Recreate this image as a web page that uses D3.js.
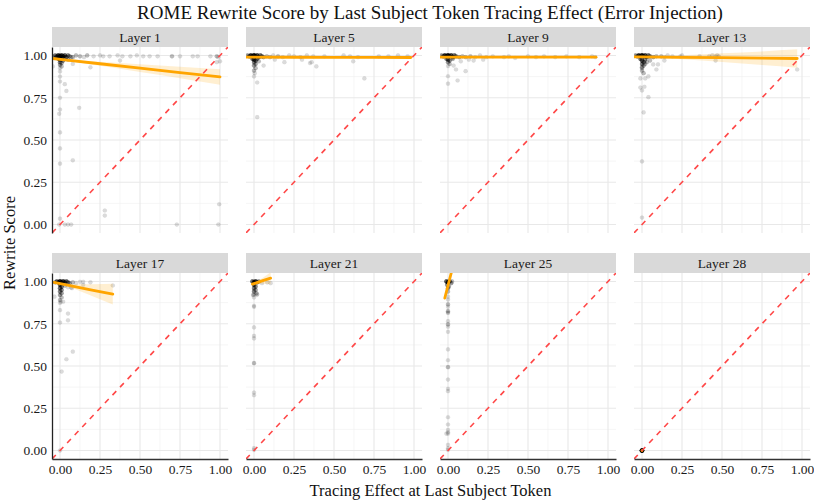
<!DOCTYPE html>
<html>
<head>
<meta charset="utf-8">
<script src="https://cdn.jsdelivr.net/npm/d3@7"></script>
<style>
  body { margin: 0; background: #fff; }
  svg text { font-family: "Liberation Serif", "Times New Roman", serif !important; }
</style>
</head>
<body>
<div id="chart"></div>
<script>
// Facet labels
var layers = ['Layer 1', 'Layer 5', 'Layer 9', 'Layer 13', 'Layer 17', 'Layer 21', 'Layer 25', 'Layer 28'];

// Tick values / labels
var tickValues = [0, 0.25, 0.5, 0.75, 1];
var minorValues = [0.125, 0.375, 0.625, 0.875];

// Points: [tracing effect, rewrite score, how many points overlap there]
var pts1 = [[-0.04,0.995,2],[-0.03,1.0,4],[-0.02,0.995,6],[-0.01,1.0,8],[0.0,0.995,10],[0.01,1.0,8],[0.02,0.995,7],[0.03,1.0,6],[0.04,0.99,5],[0.05,1.0,4],[0.06,0.995,3],[0.07,0.99,2],
  [-0.03,0.985,3],[-0.01,0.98,5],[0.0,0.975,6],[0.01,0.985,5],[0.02,0.97,4],[0.03,0.98,3],[0.05,0.975,2],
  [0.0,0.96,4],[0.01,0.955,3],[0.0,0.945,3],[0.01,0.935,2],[0.0,0.925,1],
  [0.08,0.99,2],[0.1,1.0,2],[0.125,0.995,2],[0.15,0.99,1],[0.17,1.0,2],[0.21,0.995,1],[0.25,1.0,1],[0.27,0.995,1],[0.31,0.995,1],[0.36,1.0,1],[0.39,0.995,1],[0.44,0.995,1],[0.48,1.0,1],[0.52,0.995,1],[0.56,0.995,1],[0.61,0.995,1],[0.70,0.995,2],[0.75,0.995,1],[0.83,0.995,1],[0.86,0.995,1],[0.94,0.995,1],[0.98,0.995,2],
  [0.375,0.97,1],[0.19,0.93,1],[0.08,0.95,1],[0.99,0.99,1],[1.0,0.965,1],[0.98,0.96,1],[-0.045,0.935,1],
  [0.0,0.905,1],[0.0,0.875,1],[0.0,0.846,1],[0.0,0.75,1],[0.0,0.68,1],[-0.005,0.655,1],[0.0,0.545,1],[0.0,0.45,1],[0.0,0.36,1],[0.03,0.83,1],[0.04,0.79,1],[0.12,0.69,1],[0.08,0.38,1],
  [0.0,0.035,1],[-0.005,0.0,1],[0.03,0.0,1],[0.05,0.0,1],[0.07,0.0,1],[0.28,0.083,1],[0.28,0.053,1],[0.73,0.0,1],[0.99,0.0,1],[0.995,0.12,1]];

var pts5 = [[-0.04,1.0,3],[-0.03,0.995,5],[-0.02,1.0,8],[-0.01,0.995,10],[0.0,1.0,12],[0.01,0.995,10],[0.02,1.0,8],[0.03,0.99,6],[0.04,1.0,5],[0.05,0.995,4],[0.06,0.99,3],[0.08,0.995,2],
  [-0.01,0.98,5],[0.0,0.975,6],[0.01,0.97,5],[0.02,0.98,4],[0.03,0.965,2],[0.0,0.96,4],[0.01,0.95,3],[0.0,0.94,3],[0.01,0.925,2],[0.0,0.91,2],[0.005,0.895,1],[0.0,0.876,1],
  [0.1,0.99,2],[0.12,1.0,1],[0.15,0.995,2],[0.18,0.99,1],[0.22,1.0,1],[0.25,0.995,1],[0.29,0.99,1],[0.33,1.0,1],[0.37,0.995,1],[0.44,0.995,1],[0.56,1.0,1],[0.6,0.995,1],[0.65,0.99,1],[0.78,0.995,1],[0.84,0.995,1],[0.9,1.0,1],[0.96,0.995,1],
  [0.06,0.94,1],[0.19,0.96,1],[0.36,0.96,1],[0.35,0.955,1],[0.39,0.935,1],[0.62,0.965,1],[0.69,0.864,1],[0.02,0.84,1],[0.02,0.635,1],[0.13,0.975,1],[0.3,0.975,1]];

var pts9 = [[-0.04,1.0,3],[-0.03,0.995,5],[-0.02,1.0,8],[-0.01,0.995,10],[0.0,1.0,12],[0.01,0.995,10],[0.02,1.0,8],[0.03,0.99,6],[0.04,1.0,5],[0.05,0.995,4],[0.07,0.99,3],[0.09,0.995,2],
  [-0.01,0.98,4],[0.0,0.975,5],[0.01,0.97,4],[0.03,0.98,3],[0.0,0.96,3],[0.01,0.95,2],[0.0,0.937,1],[0.0,0.877,1],[0.0,0.833,1],[0.06,0.852,1],[0.11,0.907,1],[0.05,0.917,1],[0.035,0.94,1],[0.08,0.965,1],
  [0.11,0.99,2],[0.14,0.995,2],[0.17,0.99,1],[0.2,1.0,1],[0.24,0.99,1],[0.28,0.995,1],[0.35,0.99,1],[0.38,0.995,1],[0.42,0.985,1],[0.5,0.995,1],[0.55,0.99,1],[0.6,0.995,1],[0.67,0.99,1],[0.74,0.995,1],[0.82,0.99,1],[0.9,0.995,1],[0.92,0.99,1],
  [0.13,0.975,1],[0.16,0.97,1],[0.22,0.975,1]];

var pts13 = [[-0.04,1.0,3],[-0.03,0.995,5],[-0.02,1.0,8],[-0.01,0.995,10],[0.0,1.0,12],[0.01,0.995,10],[0.02,1.0,8],[0.03,0.99,6],[0.04,1.0,5],[0.05,0.995,4],[0.07,0.99,3],[0.09,0.995,2],
  [-0.01,0.98,5],[0.0,0.97,6],[0.01,0.96,5],[0.02,0.975,4],[0.0,0.95,4],[0.01,0.94,3],[0.0,0.93,3],[0.02,0.95,2],[0.0,0.91,2],[0.01,0.895,2],[0.03,0.96,2],[0.05,0.97,2],
  [0.0,0.923,1],[-0.01,0.864,1],[0.02,0.864,1],[0.04,0.876,1],[-0.01,0.81,1],[0.015,0.815,1],[0.0,0.793,1],[0.04,0.753,1],[0.01,0.663,1],[0.0,0.373,1],[0.0,0.041,1],[0.09,0.917,1],[0.1,0.947,1],[0.07,0.947,1],[0.97,0.917,1],[0.14,0.97,1],[0.46,0.97,1],
  [0.12,0.995,2],[0.14,0.99,1],[0.16,1.0,1],[0.19,0.995,1],[0.24,0.995,1],[0.25,1.0,1],[0.36,0.995,1],[0.42,0.995,1],[0.44,1.0,1],[0.46,0.995,1],[0.47,1.0,1],[0.48,0.995,1]];

var pts17 = [[-0.03,0.995,3],[-0.02,1.0,5],[-0.01,0.995,7],[0.0,1.0,10],[0.01,0.995,9],[0.02,1.0,8],[0.03,0.995,6],[0.04,1.0,5],[0.05,0.995,4],[0.06,0.99,3],[0.08,0.995,2],[0.1,0.99,1],
  [0.0,0.98,6],[0.01,0.97,5],[0.0,0.96,5],[0.01,0.95,4],[0.0,0.94,4],[0.01,0.93,3],[0.0,0.92,3],[0.01,0.905,2],[0.0,0.89,2],[0.005,0.88,1],[0.03,0.975,2],[0.05,0.965,1],
  [-0.035,0.91,1],[0.0,0.873,1],[0.0,0.83,1],[0.05,0.81,1],[0.05,0.77,1],[0.0,0.757,1],[0.08,0.585,1],[0.04,0.54,1],[0.01,0.467,1],[0.0,0.0,1],[0.075,0.96,1],[0.02,0.88,1],
  [0.125,0.998,1],[0.145,0.998,1],[0.145,0.98,1],[0.19,0.995,1],[0.33,0.976,1],[0.07,0.964,1]];

var pts21 = [[-0.01,1.0,5],[0.0,0.995,10],[0.01,1.0,8],[0.02,0.995,5],[0.03,1.0,3],[0.0,0.98,6],[0.01,0.97,4],[0.0,0.96,4],[0.01,0.95,3],[0.0,0.94,3],[-0.005,0.92,2],[0.015,0.93,2],
  [0.0,0.945,1],[0.0,0.925,1],[0.0,0.905,1],[0.0,0.856,1],[0.0,0.85,1],[0.0,0.728,1],[0.0,0.678,1],[0.0,0.663,1],[0.0,0.517,2],[0.0,0.343,1],[0.0,0.327,1],[0.0,0.014,1],[0.0,0.004,1],
  [0.02,0.925,1],[0.083,0.994,1],[0.104,0.99,1],[0.017,0.92,1],[0.05,0.99,1]];

var pts25 = [[-0.01,1.0,6],[0.0,0.995,10],[0.01,1.0,6],[0.02,0.99,3],[0.025,1.0,2],[-0.005,0.98,4],[0.005,0.97,3],[0.0,0.96,3],[0.0,0.94,2],
  [0.0,0.91,1],[0.0,0.893,1],[0.0,0.864,2],[0.0,0.85,1],[0.0,0.824,2],[0.0,0.815,2],[0.0,0.765,1],[0.0,0.746,2],[0.0,0.732,1],[0.0,0.702,1],[0.0,0.598,1],[0.0,0.534,1],
  [0.0,0.493,2],[0.0,0.42,1],[0.0,0.365,1],[0.0,0.351,1],[0.0,0.197,1],[0.0,0.154,1],[0.0,0.122,1],[0.0,0.108,1],[0.0,0.1,1],[-0.01,0.1,1],[0.0,0.034,1],[0.0,0.014,1],[0.0,0.004,1]];

var pts28 = [[0.0,0.0,25]];

var points = [pts1, pts5, pts9, pts13, pts17, pts21, pts25, pts28];

// Linear fit (orange) and its confidence band half-width
var fitX = [[-0.046,0.03,0.25,0.5,0.75,1.0], [-0.05,0.25,0.5,0.75,0.98], [-0.05,0.25,0.5,0.75,0.925], [-0.05,0.0,0.25,0.5,0.75,0.97],
            [-0.037,0.01,0.1,0.2,0.33], [-0.01,0.005,0.05,0.104], [-0.02,0.0,0.025], [0.0,0.0]];
var fitY = [[0.982,0.974,0.951,0.925,0.899,0.873], [0.99,0.9895,0.989,0.9885,0.988], [0.99,0.99,0.99,0.99,0.99], [0.992,0.992,0.989,0.987,0.984,0.982],
            [0.994,0.985,0.968,0.949,0.925], [0.984,0.989,1.003,1.02], [0.902,0.976,1.068], [0.0,0.0]];
var fitHW = [[0.008,0.005,0.012,0.023,0.034,0.046], [0.002,0.002,0.003,0.004,0.005], [0.002,0.002,0.003,0.004,0.005], [0.005,0.004,0.012,0.026,0.04,0.054],
             [0.008,0.004,0.015,0.035,0.061], [0.012,0.006,0.016,0.035], [0.012,0.005,0.014], [0,0]];

// Layout
var width = 814, height = 501;
var colX = [52, 246, 440, 634],
    rowY = [27, 253],
    pw = 176, stripH = 20, ph = 186;

var serif = '"Liberation Serif", "Times New Roman", serif';

var svg = d3.select('#chart')
            .append('svg')
            .attr('width', width)
            .attr('height', height);

var x = d3.scaleLinear().domain([-0.05, 1.05]).range([0, pw]);
var y = d3.scaleLinear().domain([-0.05, 1.05]).range([ph, 0]);

var fmt = d3.format('.2f');

var line = d3.line()
             .x(function(d) { return x(d[0]); })
             .y(function(d) { return y(d[1]); });

var band = d3.area()
             .curve(d3.curveMonotoneX)
             .x(function(d) { return x(d[0]); })
             .y0(function(d) { return y(d[1] - d[2]); })
             .y1(function(d) { return y(d[1] + d[2]); });

svg.append('defs')
   .append('clipPath')
   .attr('id', 'panel-clip')
   .append('rect')
   .attr('width', pw)
   .attr('height', ph);

layers.forEach(function(name, i) {
  var col = i % 4, row = Math.floor(i / 4);
  var g = svg.append('g')
             .attr('transform', 'translate(' + colX[col] + ',' + rowY[row] + ')');

  // strip
  g.append('rect')
   .attr('width', pw)
   .attr('height', stripH)
   .attr('fill', '#d9d9d9');

  g.append('text')
   .attr('x', pw / 2)
   .attr('y', 14.5)
   .attr('text-anchor', 'middle')
   .attr('font-family', serif)
   .attr('font-size', '13.5px')
   .attr('fill', '#1a1a1a')
   .text(name);

  var p = g.append('g')
           .attr('transform', 'translate(0,' + stripH + ')');

  // grid
  p.selectAll('.minor-x').data(minorValues).enter().append('line')
   .attr('x1', x).attr('x2', x).attr('y1', 0).attr('y2', ph)
   .attr('stroke', '#f0f0f0').attr('stroke-width', 0.6);
  p.selectAll('.minor-y').data(minorValues).enter().append('line')
   .attr('y1', y).attr('y2', y).attr('x1', 0).attr('x2', pw)
   .attr('stroke', '#f0f0f0').attr('stroke-width', 0.6);
  p.selectAll('.major-x').data(tickValues).enter().append('line')
   .attr('x1', x).attr('x2', x).attr('y1', 0).attr('y2', ph)
   .attr('stroke', '#e8e8e8').attr('stroke-width', 1.1);
  p.selectAll('.major-y').data(tickValues).enter().append('line')
   .attr('y1', y).attr('y2', y).attr('x1', 0).attr('x2', pw)
   .attr('stroke', '#e8e8e8').attr('stroke-width', 1.1);

  var c = p.append('g').attr('clip-path', 'url(#panel-clip)');

  // points, each overlap drawn once per point
  var expanded = [];
  points[i].forEach(function(d) {
    d3.range(d[2]).forEach(function() { expanded.push(d); });
  });
  c.selectAll('circle')
   .data(expanded)
   .enter().append('circle')
   .attr('cx', function(d) { return x(d[0]); })
   .attr('cy', function(d) { return y(d[1]); })
   .attr('r', 2.1)
   .attr('fill', '#000')
   .attr('fill-opacity', 0.14)
   .attr('stroke', '#000')
   .attr('stroke-opacity', 0.06)
   .attr('stroke-width', 0.5);

  // confidence band + fit
  var fit = fitX[i].map(function(v, k) { return [v, fitY[i][k], fitHW[i][k]]; });
  c.append('path')
   .attr('d', band(fit))
   .attr('fill', '#ffa500')
   .attr('fill-opacity', 0.18);

  c.append('path')
   .attr('d', line(fit))
   .attr('fill', 'none')
   .attr('stroke', '#ffa500')
   .attr('stroke-width', 2.8)
   .attr('stroke-linecap', 'round');

  // y = x reference
  c.append('path')
   .attr('d', line([[-0.05, -0.05], [1.05, 1.05]]))
   .attr('fill', 'none')
   .attr('stroke', '#ff4747')
   .attr('stroke-width', 1.6)
   .attr('stroke-dasharray', '5.5,5.5');

  // axes on outer panels only
  if (col === 0) {
    var ya = d3.axisLeft(y).tickValues(tickValues).tickFormat(fmt).tickSize(0).tickPadding(5);
    var yg = p.append('g').attr('font-family', serif).call(ya);
    yg.attr('font-family', serif);
    yg.select('.domain').attr('stroke', '#222').attr('stroke-width', 1.3);
    yg.selectAll('text').attr('font-size', '13.5px').attr('fill', '#1a1a1a');
  }
  if (row === 1) {
    var xa = d3.axisBottom(x).tickValues(tickValues).tickFormat(fmt).tickSize(0).tickPadding(5);
    var xg = p.append('g').attr('transform', 'translate(0,' + ph + ')').call(xa);
    xg.attr('font-family', serif);
    xg.select('.domain').attr('stroke', '#333').attr('stroke-width', 1.6);
    xg.selectAll('text').attr('font-size', '13.5px').attr('fill', '#1a1a1a');
  }
});

// titles
svg.append('text')
   .attr('x', 430)
   .attr('y', 19)
   .attr('text-anchor', 'middle')
   .attr('font-family', serif)
   .attr('font-size', '19px')
   .attr('fill', '#111')
   .text('ROME Rewrite Score by Last Subject Token Tracing Effect (Error Injection)');

svg.append('text')
   .attr('x', 430.5)
   .attr('y', 496)
   .attr('text-anchor', 'middle')
   .attr('font-family', serif)
   .attr('font-size', '16.5px')
   .attr('fill', '#111')
   .text('Tracing Effect at Last Subject Token');

svg.append('text')
   .attr('transform', 'translate(15,243) rotate(-90)')
   .attr('text-anchor', 'middle')
   .attr('font-family', serif)
   .attr('font-size', '16.5px')
   .attr('fill', '#111')
   .text('Rewrite Score');
</script>
</body>
</html>
